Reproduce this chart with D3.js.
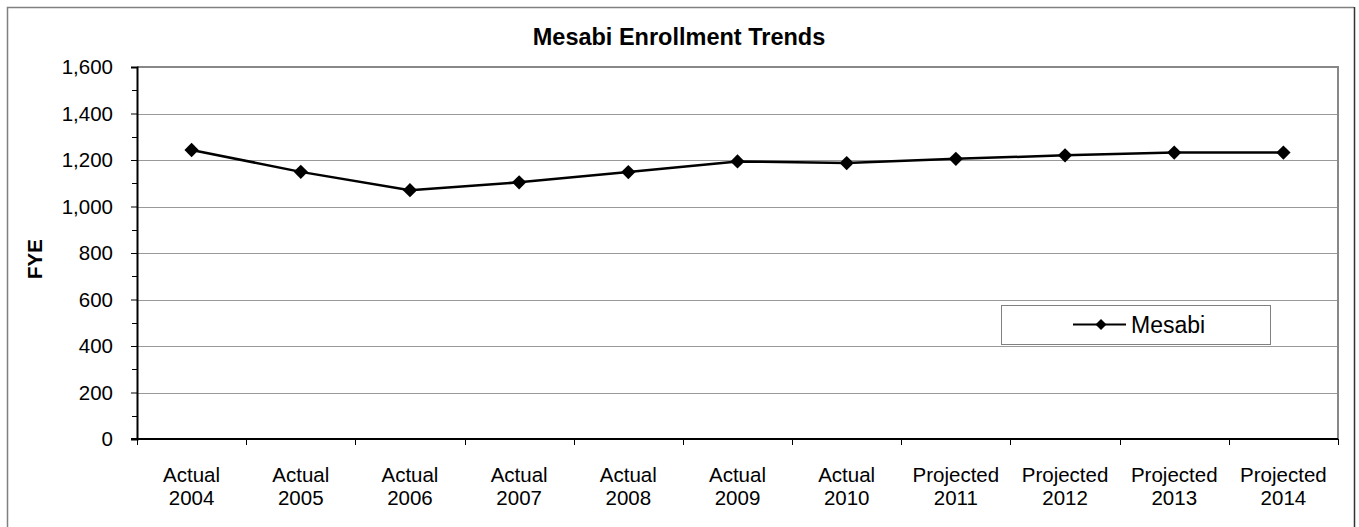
<!DOCTYPE html>
<html>
<head>
<meta charset="utf-8">
<script src="https://cdn.jsdelivr.net/npm/d3@7"></script>
<style>
  html, body { margin: 0; padding: 0; background: #fff; }
  svg { display: block; font-family: "Liberation Sans", Arial, sans-serif; }
</style>
</head>
<body>
<svg id="chart" width="1359" height="527"></svg>
<script>
const title = "Mesabi Enrollment Trends";
const yLabel = "FYE";
const seriesName = "Mesabi";
const categoryTop = ["Actual", "Actual", "Actual", "Actual", "Actual", "Actual", "Actual", "Projected", "Projected", "Projected", "Projected"];
const categoryYear = ["2004", "2005", "2006", "2007", "2008", "2009", "2010", "2011", "2012", "2013", "2014"];
const values = [1243, 1149, 1070, 1104, 1148, 1194, 1187, 1205, 1220, 1232, 1232];
const yTicks = [0, 200, 400, 600, 800, 1000, 1200, 1400, 1600];
const yMinorTicks = [100, 300, 500, 700, 900, 1100, 1300, 1500];

const svg = d3.select("#chart");
const plot = { left: 137, top: 67, right: 1338, bottom: 439 };
const FS = 20.5;

// outer frame (left/top gray, right darker; bottom edge lies beyond the image)
svg.append("path").attr("d", "M7.5,530 V7.5 H1354")
  .attr("fill", "none").attr("stroke", "#808080").attr("stroke-width", 1.5);
svg.append("path").attr("d", "M1354.5,7 V530")
  .attr("fill", "none").attr("stroke", "#333").attr("stroke-width", 1.5);

const cats = categoryYear.map((d, i) => i);
const x = d3.scaleBand().domain(cats).range([plot.left, plot.right]).padding(0);
const y = d3.scaleLinear().domain([0, 1600]).range([plot.bottom, plot.top]);

// gridlines
svg.append("g").selectAll("line").data(yTicks.filter(d => d > 0 && d < 1600)).join("line")
  .attr("x1", plot.left).attr("x2", plot.right)
  .attr("y1", d => Math.round(y(d)) + 0.5).attr("y2", d => Math.round(y(d)) + 0.5)
  .attr("stroke", "#999").attr("stroke-width", 1);

// plot frame top & right (gray)
svg.append("path")
  .attr("d", `M${plot.left},${plot.top} H${plot.right} V${plot.bottom}`)
  .attr("fill", "none").attr("stroke", "#888").attr("stroke-width", 2);

// y axis
const yAxis = d3.axisLeft(y).tickValues(yTicks).tickSize(6).tickPadding(18)
  .tickFormat(d3.format(","));
const gy = svg.append("g").attr("transform", `translate(${plot.left},0)`).call(yAxis);
gy.select(".domain").attr("stroke", "#000").attr("stroke-width", 2);
gy.selectAll(".tick line").attr("stroke", "#000");
gy.selectAll(".tick text").attr("font-size", FS).attr("fill", "#000")
  .attr("font-family", "Liberation Sans, Arial, sans-serif");
// minor ticks
svg.append("g").selectAll("line").data(yMinorTicks).join("line")
  .attr("x1", plot.left - 5).attr("x2", plot.left)
  .attr("y1", d => Math.round(y(d)) + 0.5).attr("y2", d => Math.round(y(d)) + 0.5)
  .attr("stroke", "#000");

// x axis
const gx = svg.append("g").attr("transform", `translate(0,${plot.bottom})`);
gx.append("line").attr("x1", plot.left - 6).attr("x2", plot.right)
  .attr("y1", 0).attr("y2", 0).attr("stroke", "#000").attr("stroke-width", 2);
const boundaries = cats.map(i => x(i)).concat([plot.right]);
gx.selectAll("line.tk").data(boundaries).join("line").attr("class", "tk")
  .attr("x1", d => Math.round(d) + 0.5).attr("x2", d => Math.round(d) + 0.5)
  .attr("y1", 0).attr("y2", 6).attr("stroke", "#000");
const lbl = gx.selectAll("text.lbl").data(cats).join("text").attr("class", "lbl")
  .attr("x", i => x(i) + x.bandwidth() / 2)
  .attr("text-anchor", "middle").attr("font-size", FS).attr("fill", "#000");
lbl.append("tspan").attr("x", i => x(i) + x.bandwidth() / 2).attr("y", 43).text(i => categoryTop[i]);
lbl.append("tspan").attr("x", i => x(i) + x.bandwidth() / 2).attr("y", 66).text(i => categoryYear[i]);

// line
const line = d3.line().x((d, i) => x(i) + x.bandwidth() / 2).y(d => y(d));
svg.append("path").datum(values).attr("d", line)
  .attr("fill", "none").attr("stroke", "#000").attr("stroke-width", 2.5);
const diamond = d3.symbol().type(d3.symbolSquare).size(102);
svg.append("g").selectAll("path").data(values).join("path")
  .attr("d", diamond())
  .attr("transform", (d, i) => `translate(${x(i) + x.bandwidth() / 2},${y(d)}) rotate(45)`)
  .attr("fill", "#000");

// title
svg.append("text").attr("x", 679).attr("y", 45)
  .attr("text-anchor", "middle").attr("font-size", 23.5).attr("font-weight", "bold")
  .text(title);

// y label
svg.append("text").attr("transform", `translate(41.5,259) rotate(-90)`)
  .attr("text-anchor", "middle").attr("font-size", 20.5).attr("font-weight", "bold")
  .text(yLabel);

// legend
const lg = svg.append("g");
lg.append("rect").attr("x", 1001.5).attr("y", 305.5).attr("width", 269).attr("height", 39)
  .attr("fill", "#fff").attr("stroke", "#808080").attr("stroke-width", 1);
lg.append("line").attr("x1", 1073).attr("x2", 1126).attr("y1", 324.5).attr("y2", 324.5)
  .attr("stroke", "#000").attr("stroke-width", 2);
lg.append("path").attr("d", d3.symbol().type(d3.symbolSquare).size(60)())
  .attr("transform", "translate(1101,324.5) rotate(45)").attr("fill", "#000");
lg.append("text").attr("x", 1131).attr("y", 333).attr("font-size", 23).text(seriesName);
</script>
</body>
</html>
